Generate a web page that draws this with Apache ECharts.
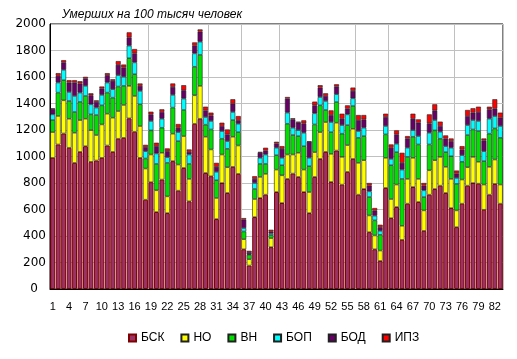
<!DOCTYPE html>
<html><head><meta charset="utf-8">
<script src="https://cdn.jsdelivr.net/npm/echarts@6/dist/echarts.min.js"></script>
<style>html,body{margin:0;padding:0;background:#fff}#c{width:517px;height:359px}</style>
</head><body><div id="c"></div>
<script>
const categories = Array.from({length: 83}, (_, i) => String(i + 1));
const yTicks = [0, 200, 400, 600, 800, 1000, 1200, 1400, 1600, 1800, 2000];
const seriesNames = ['БСК', 'НО', 'ВН', 'БОП', 'БОД', 'ИПЗ'];
const bsk = [990,1091,1174,1066,952,1035,1078,960,970,990,1083,1035,1134,1141,1288,1187,990,674,806,581,826,573,965,742,914,662,1247,1285,876,851,528,800,725,922,869,300,177,543,687,712,316,732,649,831,871,846,732,573,846,982,1035,808,1045,788,884,982,712,755,429,300,212,763,535,619,371,644,770,657,439,712,755,780,725,611,467,644,780,800,795,598,712,793,644];
const no = [194,215,250,219,227,240,207,239,192,252,240,258,209,248,245,270,240,235,209,164,202,126,207,197,240,169,215,248,273,202,159,215,194,227,214,76,48,136,159,157,68,169,209,184,144,182,169,159,187,202,225,212,210,209,202,227,240,217,126,104,78,227,144,169,106,187,220,174,154,184,217,217,197,220,126,182,139,197,165,190,210,184,144];
const vn = [91,176,152,134,157,137,172,119,151,144,159,151,185,144,209,164,164,76,182,199,189,253,197,177,197,113,215,234,91,151,134,119,139,126,101,58,33,76,98,75,23,109,76,232,147,126,177,195,209,202,91,164,156,175,151,172,189,182,139,114,119,177,255,245,354,166,159,260,101,195,225,137,111,171,200,134,243,207,232,177,250,235,353];
const bop = [43,76,78,68,121,70,76,76,56,79,76,64,86,68,94,89,101,55,71,79,68,43,96,68,86,71,101,99,58,64,63,58,58,61,63,26,5,45,46,71,12,56,56,84,55,45,101,63,84,63,68,76,59,65,81,58,51,63,43,35,30,63,48,63,70,69,50,63,51,88,78,53,45,64,45,50,75,71,76,75,113,93,89];
const bod = [40,51,56,71,101,69,55,68,43,48,56,63,78,71,63,68,38,31,50,55,51,45,60,33,63,20,58,76,50,42,38,38,51,63,28,63,15,31,38,30,13,32,68,106,63,56,71,121,60,71,38,53,58,48,43,56,83,63,43,38,28,68,84,71,51,70,86,101,35,71,73,43,58,50,33,43,68,56,68,81,71,56,63];
const ipz = [5,20,17,18,18,17,13,15,12,15,15,12,28,22,38,33,18,17,20,26,20,21,26,28,38,18,25,17,28,21,30,25,37,33,30,12,10,20,7,21,15,13,20,12,8,8,23,3,28,18,20,35,17,38,25,25,38,33,20,20,18,25,25,30,76,18,38,25,20,68,46,33,23,20,23,25,46,33,40,15,20,71,38];
const vGridIdx = [18, 29, 35, 42, 56, 62, 74];

const colors = ['#993366', '#ffff00', '#00e000', '#00ffff', '#660066', '#ff0000'];
const values = [bsk, no, vn, bop, bod, ipz];
const FONT = '"Liberation Sans", Arial, sans-serif';

const chart = echarts.init(document.getElementById('c'), null, {renderer: 'canvas'});
chart.setOption({
  animation: false,
  backgroundColor: '#fff',
  title: {
    text: 'Умерших на 100 тысяч человек',
    left: 62, top: 9, padding: 0,
    textStyle: {fontFamily: FONT, fontSize: 12, fontStyle: 'italic', fontWeight: 'normal', color: '#000'}
  },
  legend: {
    data: seriesNames,
    left: 128, top: 332, padding: 0,
    itemWidth: 7, itemHeight: 7, itemGap: 16,
    icon: 'rect',
    textStyle: {fontFamily: FONT, fontSize: 12, color: '#000'}
  },
  grid: {left: 50, right: 14, top: 24, bottom: 70, show: true, borderColor: '#000', borderWidth: 1, backgroundColor: '#fff'},
  xAxis: {
    type: 'category', data: categories,
    axisLine: {lineStyle: {color: '#000'}},
    axisTick: {show: false},
    axisLabel: {interval: 2, margin: 12, fontFamily: FONT, fontSize: 11, color: '#000'},
    splitLine: {show: true, interval: (i) => vGridIdx.includes(i), lineStyle: {color: '#c0c0c0'}}
  },
  yAxis: {
    type: 'value', min: yTicks[0], max: yTicks[yTicks.length - 1], interval: 200,
    axisLine: {show: true, lineStyle: {color: '#000'}},
    axisTick: {show: false},
    axisLabel: {
      margin: 4, fontFamily: '"DejaVu Sans", sans-serif', fontSize: 12, color: '#000',
      formatter: v => v === 0 ? '{z|0}' : String(v),
      rich: {z: {fontFamily: '"DejaVu Sans", sans-serif', fontSize: 12, color: '#000', padding: [0, 8, 0, 0]}}
    },
    splitLine: {lineStyle: {color: '#c0c0c0'}}
  },
  series: seriesNames.map((n, k) => ({
    name: n, type: 'bar', stack: 'all', data: values[k],
    barCategoryGap: '10%',
    itemStyle: {color: colors[k], borderColor: k === 0 ? '#800000' : '#202020', borderWidth: k === 0 ? 1 : 0.6}
  }))
});
</script></body></html>
